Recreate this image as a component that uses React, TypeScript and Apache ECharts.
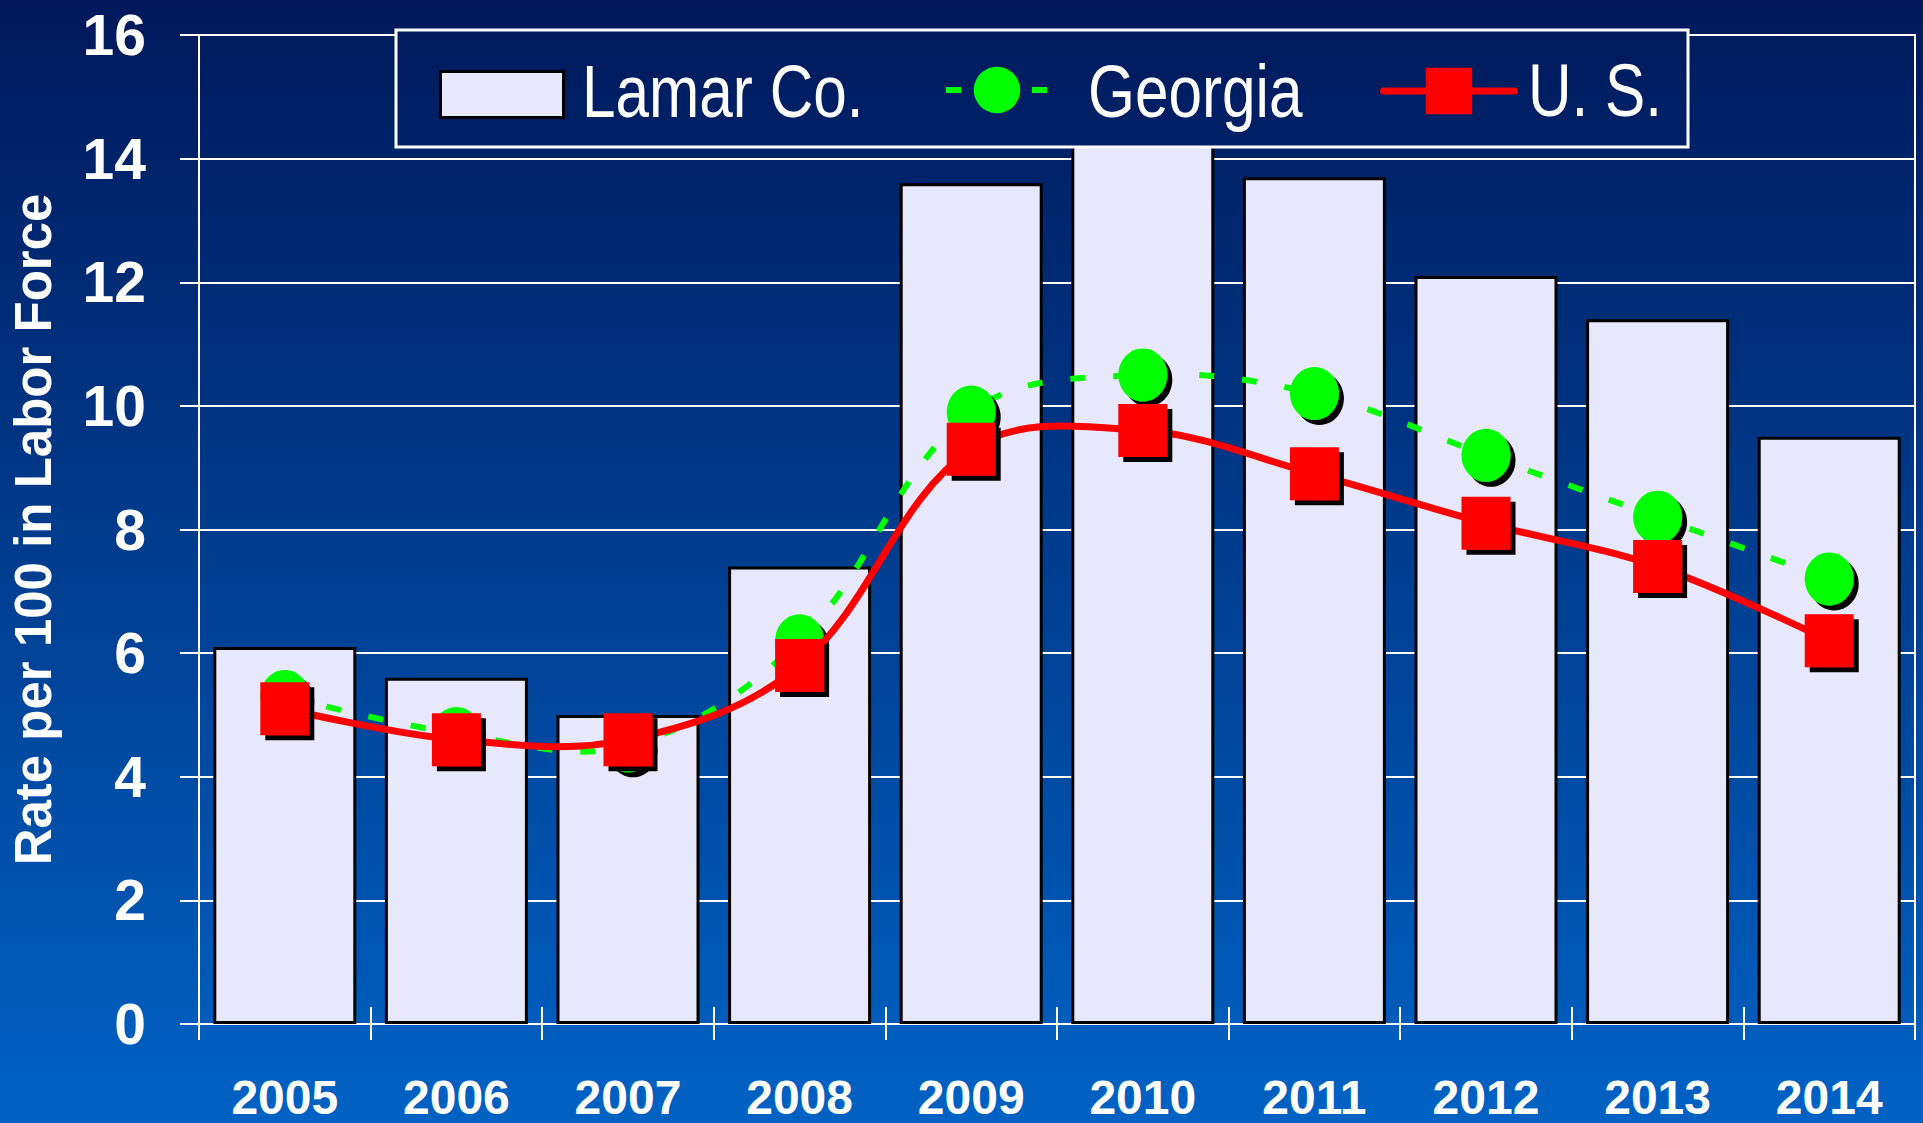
import React, { useEffect, useRef } from "react";
import * as echarts from "echarts";

const categories = ["2005", "2006", "2007", "2008", "2009", "2010", "2011", "2012", "2013", "2014"];
const lamarValues = [6.1, 5.6, 5.0, 7.4, 13.6, 14.6, 13.7, 12.1, 11.4, 9.5];
const georgiaValues = [5.3, 4.7, 4.5, 6.2, 9.9, 10.5, 10.2, 9.2, 8.2, 7.2];
const usValues = [5.1, 4.6, 4.6, 5.8, 9.3, 9.6, 8.9, 8.1, 7.4, 6.2];
const seriesNames = ["Lamar Co.", "Georgia", "U. S."];
const yAxisName = "Rate per 100 in Labor Force";

const W = 1923;
const H = 1123;
const stops = [
  { offset: 0, color: "#00185a" },
  { offset: 1, color: "#0062c4" },
];
const legendFont = "'Liberation Sans', Arial, sans-serif";
const bold = "'Liberation Sans', Arial, sans-serif";
const GREEN = "#00ff00";
const RED = "#ff0000";
const SMOOTH = 0.36;

function curveRenderer(values: number[], style: any) {
  return (params: any, api: any) => {
    if (params.dataIndex !== 0) return null;
    const points = values.map((v, i) => api.coord([i, v]));
    return {
      type: "polyline",
      shape: { points, smooth: SMOOTH },
      style: { fill: "none", ...style },
    };
  };
}

export default function App() {
  const ref = useRef<HTMLDivElement>(null);
  useEffect(() => {
    document.body.style.margin = "0";
    const chart = echarts.init(ref.current!, null, { renderer: "svg" });
    const noShadow = { shadowColor: "transparent", shadowOffsetX: 0, shadowOffsetY: 0, shadowBlur: 0 };
    const legendLabel = (text: string, x: number, y: number) => ({
      type: "text",
      z: 30,
      x,
      y,
      scaleX: 0.815,
      style: {
        text,
        x: 0,
        y: 0,
        fill: "#ffffff",
        font: `74px ${legendFont}`,
        textAlign: "left",
        textVerticalAlign: "middle",
      },
    });
    const shadowItem = (color: string) => ({
      color,
      shadowColor: "#000000",
      shadowOffsetX: 5,
      shadowOffsetY: 5,
      shadowBlur: 0,
    });
    chart.setOption({
      animation: false,
      backgroundColor: { type: "linear", x: 0, y: 0, x2: 0, y2: 1, colorStops: stops },
      grid: {
        left: 193,
        right: 8,
        top: 35,
        bottom: 99,
        show: true,
        borderColor: "#ffffff",
        borderWidth: 2,
        backgroundColor: "transparent",
      },
      graphic: [
        {
          type: "rect",
          z: 10,
          shape: { x: 396, y: 30, width: 1292, height: 117 },
          style: {
            fill: { type: "linear", x: 0, y: 0, x2: 0, y2: H, global: true, colorStops: stops },
            stroke: "#ffffff",
            lineWidth: 3,
          },
        },
        legendLabel(seriesNames[0], 582, 91),
        legendLabel(seriesNames[1], 1088, 91),
        legendLabel(seriesNames[2], 1528, 90),
      ],
      legend: [
        {
          z: 20,
          data: [{ name: seriesNames[0], icon: "rect" }],
          left: 439,
          top: 70,
          padding: 0,
          itemWidth: 123,
          itemHeight: 46,
          selectedMode: false,
          formatter: () => "",
          itemStyle: { borderColor: "#000000", borderWidth: 3 },
        },
        {
          z: 20,
          data: [seriesNames[1]],
          left: 943,
          top: 61,
          padding: 0,
          itemWidth: 102,
          itemHeight: 58,
          selectedMode: false,
          formatter: () => "",
          itemStyle: noShadow,
          lineStyle: { color: GREEN, width: 6, type: [15, 28], opacity: 1 },
        },
        {
          z: 20,
          data: [seriesNames[2]],
          left: 1380,
          top: 62,
          padding: 0,
          itemWidth: 131,
          itemHeight: 58,
          selectedMode: false,
          formatter: () => "",
          itemStyle: noShadow,
          lineStyle: { color: RED, width: 7, cap: "round", opacity: 1 },
        },
      ],
      xAxis: [
        {
          type: "category",
          data: categories,
          position: "bottom",
          axisLine: { lineStyle: { color: "#ffffff", width: 2 } },
          axisTick: { show: true, length: 16, lineStyle: { color: "#ffffff", width: 2 } },
          axisLabel: {
            color: "#ffffff",
            fontSize: 48,
            lineHeight: 36,
            fontWeight: "bold",
            fontFamily: bold,
            margin: 55,
          },
        },
        {
          type: "category",
          data: categories,
          position: "bottom",
          axisLine: { show: false },
          axisTick: { show: true, inside: true, length: 17, lineStyle: { color: "#ffffff", width: 2 } },
          axisLabel: { show: false },
          splitLine: { show: false },
        },
      ],
      yAxis: {
        type: "value",
        min: 0,
        max: 16,
        interval: 2,
        name: yAxisName,
        nameLocation: "middle",
        nameGap: 140,
        nameTextStyle: { color: "#ffffff", fontSize: 51, fontWeight: "bold", fontFamily: bold },
        axisLine: { show: true, lineStyle: { color: "#ffffff", width: 2 } },
        axisTick: { show: true, length: 19, lineStyle: { color: "#ffffff", width: 2 } },
        axisLabel: { color: "#ffffff", fontSize: 57, fontWeight: "bold", fontFamily: bold, margin: 53 },
        splitLine: { show: true, lineStyle: { color: "#ffffff", width: 2 } },
      },
      series: [
        {
          name: seriesNames[0],
          type: "bar",
          z: 2,
          data: lamarValues,
          barWidth: 143,
          itemStyle: { color: "#e8e8fc", borderColor: "#000000", borderWidth: 3 },
        },
        {
          name: "Georgia curve",
          type: "custom",
          z: 3,
          data: georgiaValues.map((v, i) => [i, v]),
          clip: false,
          silent: true,
          renderItem: curveRenderer(georgiaValues, { stroke: GREEN, lineWidth: 6, lineDash: [15, 28] }),
        },
        {
          name: seriesNames[1],
          type: "line",
          z: 4,
          data: georgiaValues,
          symbol: "circle",
          symbolSize: [49, 53],
          lineStyle: { color: GREEN, width: 6, type: [15, 28], opacity: 0 },
          itemStyle: shadowItem(GREEN),
        },
        {
          name: "U. S. curve",
          type: "custom",
          z: 5,
          data: usValues.map((v, i) => [i, v]),
          clip: false,
          silent: true,
          renderItem: curveRenderer(usValues, { stroke: RED, lineWidth: 7 }),
        },
        {
          name: seriesNames[2],
          type: "line",
          z: 6,
          data: usValues,
          symbol: "rect",
          symbolSize: [49, 53],
          lineStyle: { color: RED, width: 7, opacity: 0 },
          itemStyle: shadowItem(RED),
        },
      ],
    });
    return () => chart.dispose();
  }, []);
  return <div ref={ref} style={{ position: "fixed", left: 0, top: 0, width: W, height: H }} />;
}
